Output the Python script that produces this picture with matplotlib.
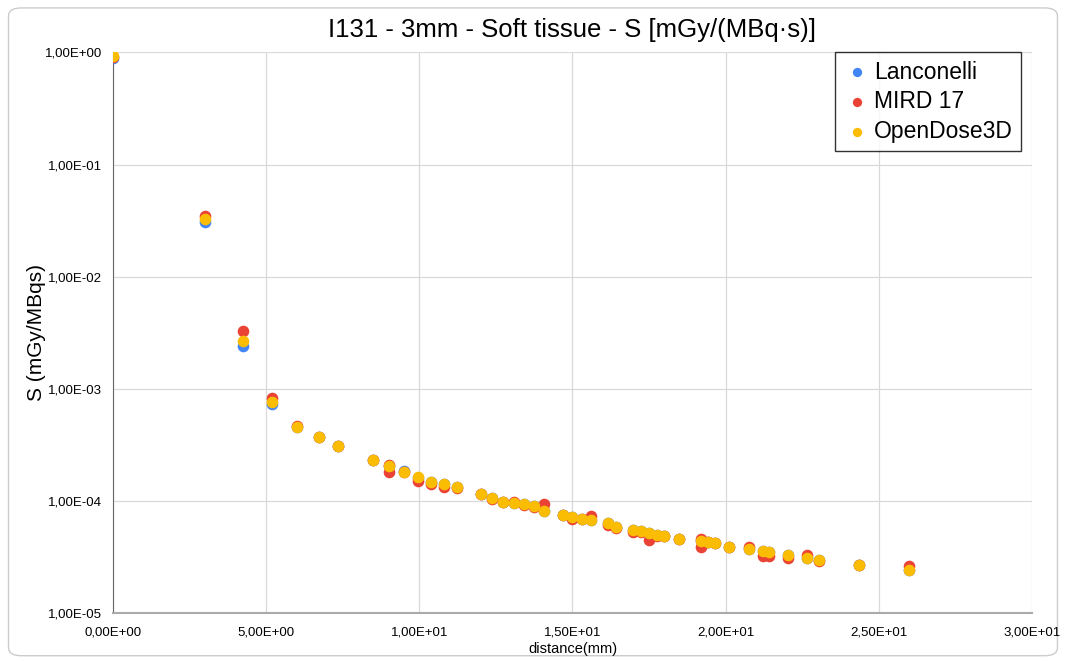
import matplotlib.pyplot as plt
import numpy as np
from matplotlib.patches import FancyBboxPatch
from matplotlib.ticker import FuncFormatter, FixedLocator

plt.rcParams['font.family'] = ['Liberation Sans', 'DejaVu Sans']

# distance (mm) and S values
dist = [0.0, 3.0, 4.24, 5.2, 6.0, 6.71, 7.35, 8.49, 9.0, 9.49, 9.95, 10.39, 10.82,
        11.22, 12.0, 12.37, 12.73, 13.08, 13.42, 13.75, 14.07, 14.7, 15.0, 15.3,
        15.59, 16.16, 16.43, 16.97, 17.23, 17.49, 17.75, 18.0, 18.49, 19.21, 19.44,
        19.67, 20.12, 20.78, 21.21, 21.42, 22.05, 22.65, 23.04, 24.37, 25.98]

lanconelli = [0.90, 3.06e-2, 2.4e-3, 7.3e-4, 4.6e-4, 3.7e-4, 3.08e-4, 2.3e-4, 2.05e-4,
              1.83e-4, 1.6e-4, 1.48e-4, 1.41e-4, 1.33e-4, 1.15e-4, 1.06e-4, 9.8e-5,
              9.6e-5, 9.3e-5, 9.0e-5, 8.2e-5, 7.5e-5, 7.2e-5, 6.9e-5, 6.8e-5, 6.3e-5,
              5.9e-5, 5.5e-5, 5.4e-5, 5.2e-5, 5.0e-5, 4.9e-5, 4.6e-5, 4.4e-5, 4.3e-5,
              4.2e-5, 3.9e-5, 3.7e-5, 3.6e-5, 3.5e-5, 3.3e-5, 3.1e-5, 3.0e-5, 2.7e-5,
              2.4e-5]

mird17 = [0.92, 3.5e-2, 3.3e-3, 8.2e-4, 4.7e-4, 3.75e-4, 3.1e-4, 2.33e-4, 1.8e-4,
          1.82e-4, 1.5e-4, 1.42e-4, 1.32e-4, 1.31e-4, 1.15e-4, 1.05e-4, 9.8e-5,
          9.8e-5, 9.2e-5, 8.8e-5, 9.4e-5, 7.5e-5, 6.9e-5, 6.9e-5, 7.3e-5, 6.1e-5,
          5.7e-5, 5.3e-5, 5.3e-5, 4.5e-5, 4.9e-5, 4.9e-5, 4.6e-5, 4.6e-5, 4.3e-5,
          4.2e-5, 3.9e-5, 3.9e-5, 3.2e-5, 3.2e-5, 3.1e-5, 3.3e-5, 2.9e-5, 2.7e-5,
          2.65e-5]
# second MIRD value at the same distance
mird17_extra_x = [9.0, 19.21]
mird17_extra_y = [2.1e-4, 3.9e-5]

opendose = [0.93, 3.3e-2, 2.65e-3, 7.6e-4, 4.55e-4, 3.7e-4, 3.08e-4, 2.31e-4, 2.05e-4,
            1.82e-4, 1.62e-4, 1.48e-4, 1.41e-4, 1.33e-4, 1.15e-4, 1.06e-4, 9.8e-5,
            9.6e-5, 9.3e-5, 9.0e-5, 8.1e-5, 7.5e-5, 7.2e-5, 6.9e-5, 6.7e-5, 6.3e-5,
            5.9e-5, 5.5e-5, 5.4e-5, 5.2e-5, 5.0e-5, 4.9e-5, 4.6e-5, 4.4e-5, 4.3e-5,
            4.2e-5, 3.9e-5, 3.7e-5, 3.6e-5, 3.5e-5, 3.3e-5, 3.1e-5, 3.0e-5, 2.7e-5,
            2.4e-5]

x_ticks = [0, 5, 10, 15, 20, 25, 30]
y_ticks = [1e-5, 1e-4, 1e-3, 1e-2, 1e-1, 1e0]


def sci_comma(v, pos):
    s = "%.2E" % v
    mant, exp = s.split("E")
    sign = exp[0]
    return "%sE%s%02d" % (mant.replace(".", ","), sign, int(exp[1:]))


fig = plt.figure(figsize=(10.66, 6.61), dpi=100)
fig.patches.append(FancyBboxPatch((0.008, 0.008), 0.984, 0.98, boxstyle="round,pad=0,rounding_size=0.012",
                                  transform=fig.transFigure, facecolor="white", edgecolor="#cccccc",
                                  linewidth=1.0, zorder=-1))
ax = fig.add_axes([0.106, 0.0726, 0.862, 0.848])
ax.set_facecolor("none")

ms = 70
ax.scatter(dist, lanconelli, s=ms, color="#4285F4", label="Lanconelli", zorder=3, linewidths=0)
ax.scatter(dist + mird17_extra_x, mird17 + mird17_extra_y, s=ms, color="#EA4335",
           label="MIRD 17", zorder=4, linewidths=0)
ax.scatter(dist, opendose, s=ms, color="#FBBC04", label="OpenDose3D", zorder=5, linewidths=0)

ax.set_yscale("log")
ax.set_xlim(0, 30)
ax.set_ylim(1e-5, 1e0)
ax.xaxis.set_major_locator(FixedLocator(x_ticks))
ax.yaxis.set_major_locator(FixedLocator(y_ticks))
ax.yaxis.set_minor_locator(FixedLocator([]))
ax.xaxis.set_major_formatter(FuncFormatter(sci_comma))
ax.yaxis.set_major_formatter(FuncFormatter(sci_comma))
ax.tick_params(length=0, labelsize=9.5)
ax.tick_params(axis="y", pad=8)
ax.tick_params(axis="x", pad=10)

ax.grid(True, color="#d9d9d9", linewidth=0.9)
ax.set_axisbelow(True)
for side in ["top", "right"]:
    ax.spines[side].set_visible(False)
ax.spines["left"].set_color("#666666")
ax.spines["bottom"].set_color("#aaaaaa")
ax.spines["bottom"].set_linewidth(1.5)

ax.set_title("I131 - 3mm - Soft tissue - S [mGy/(MBq·s)]", fontsize=18.5, pad=11)
ax.set_xlabel("distance(mm)", fontsize=10.5, labelpad=2)
ax.set_ylabel("S (mGy/MBqs)", fontsize=15, labelpad=-1)

leg = ax.legend(loc="upper right", bbox_to_anchor=(0.988, 1.0), borderaxespad=0, fontsize=16.5,
                frameon=True, fancybox=False, edgecolor="black", handletextpad=0.15,
                markerscale=0.8, borderpad=0.35, labelspacing=0.3, handlelength=1.2)
leg.get_frame().set_linewidth(1.0)

fig.savefig("out.png", dpi=100)
